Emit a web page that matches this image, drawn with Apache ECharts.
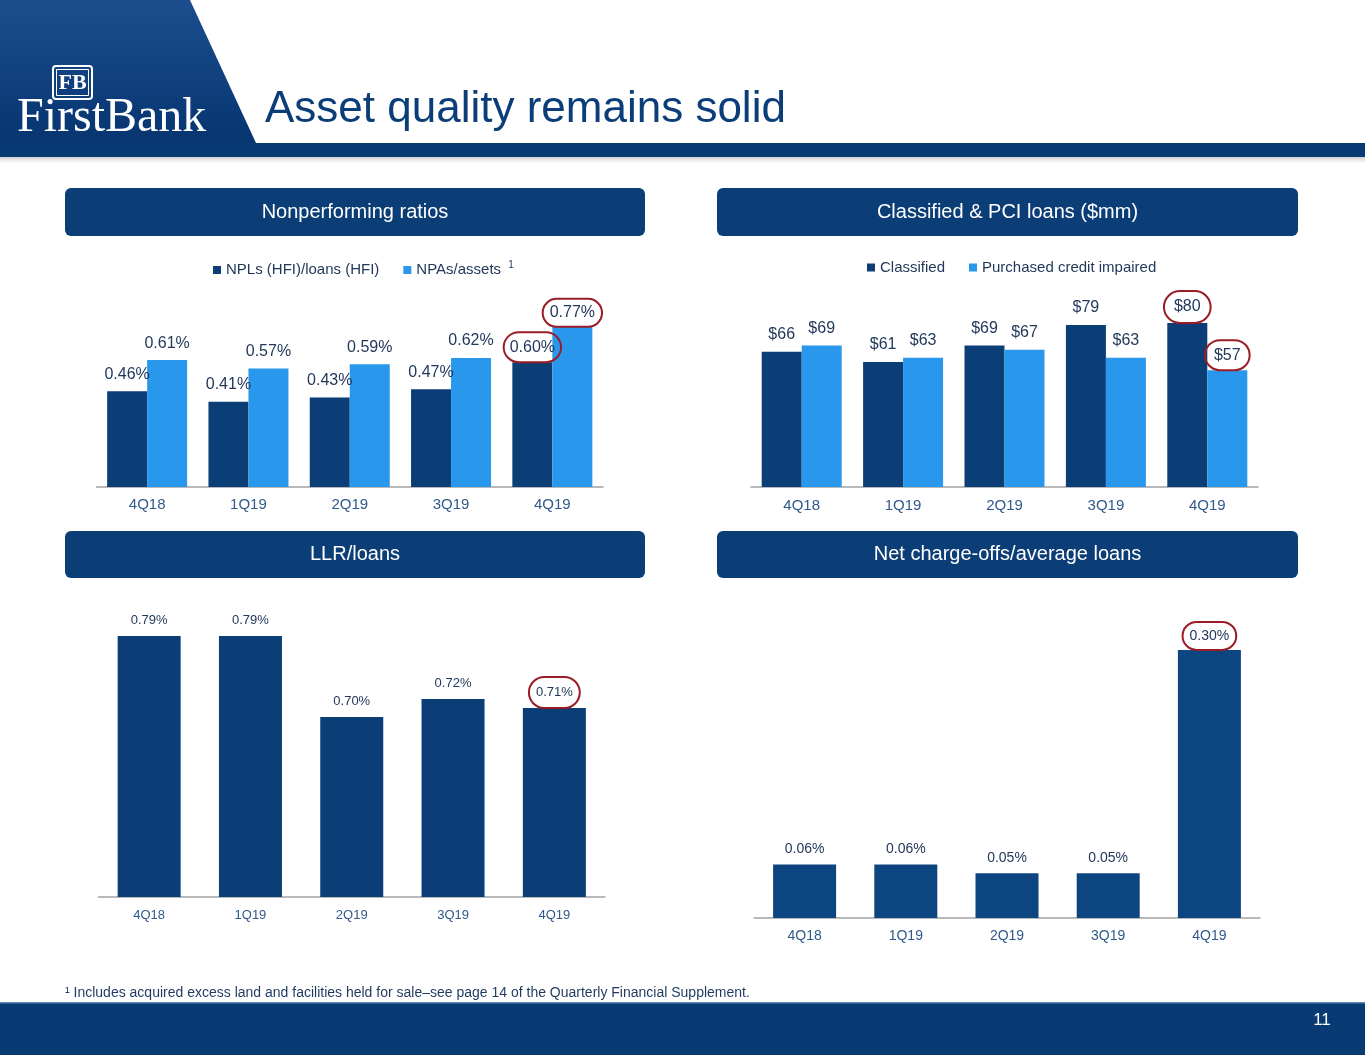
<!DOCTYPE html>
<html>
<head>
<meta charset="utf-8">
<title>Asset quality remains solid</title>
<script src="https://cdn.jsdelivr.net/npm/echarts@6/dist/echarts.min.js"></script>
<style>
  html, body { margin: 0; padding: 0; background: #fff; }
  #page { width: 1365px; height: 1055px; }
</style>
</head>
<body>
<div id="page"></div>
<script>
// slide data
var quarters = ['4Q18', '1Q19', '2Q19', '3Q19', '4Q19'];
var nplLoans = [0.46, 0.41, 0.43, 0.47, 0.60];      // NPLs (HFI)/loans (HFI), %
var npaAssets = [0.61, 0.57, 0.59, 0.62, 0.77];     // NPAs/assets, %
var classifiedLoans = [66, 61, 69, 79, 80];         // $mm
var pciLoans = [69, 63, 67, 63, 57];                // $mm
var llrLoans = [0.79, 0.79, 0.70, 0.72, 0.71];      // %
var ncoLoans = [0.06, 0.06, 0.05, 0.05, 0.30];      // %
var circledIndex = 4;                               // quarter ringed in red on the slide

(function () {
  var font = '"Liberation Sans", Arial, sans-serif';
  var serif = '"Liberation Serif", "DejaVu Serif", serif';
  var navy = '#0b3d76';
  var sky = '#2897ec';
  var labelInk = '#23395b';
  var axisInk = '#31598a';
  var ring = '#9b1c24';

  var chart = echarts.init(document.getElementById('page'), null, { renderer: 'canvas' });

  function pct(p) { return p.value.toFixed(2) + '%'; }
  function usd(p) { return '$' + p.value; }

  // red hand-drawn style ring round the latest value
  function ringed(values, pad) {
    return values.map(function (v, i) {
      if (i !== circledIndex) return v;
      return {
        value: v,
        label: {
          borderColor: ring,
          borderWidth: 2,
          borderRadius: 20,
          padding: pad,
          distance: 0
        }
      };
    });
  }

  function catAxis(grid, size, margin) {
    return {
      type: 'category',
      gridIndex: grid,
      data: quarters,
      axisTick: { show: false },
      axisLine: { lineStyle: { color: '#a3a3a3', width: 1.5 } },
      axisLabel: { color: axisInk, fontSize: size, fontFamily: font, margin: margin }
    };
  }
  function valAxis(grid, min, max) {
    return { type: 'value', gridIndex: grid, min: min, max: max, show: false, splitLine: { show: false } };
  }
  function barLabel(size, dist, fmt) {
    return { show: true, position: 'top', distance: dist, color: labelInk, fontSize: size, fontFamily: font, formatter: fmt };
  }

  function panel(x, y, w, h, text) {
    return {
      type: 'group',
      children: [
        { type: 'rect', shape: { x: x, y: y, width: w, height: h, r: 6 }, style: { fill: navy } },
        {
          type: 'text', x: x + w / 2, y: y + h / 2,
          style: { text: text, fill: '#fff', font: '20px ' + font, align: 'center', verticalAlign: 'middle' }
        }
      ]
    };
  }

  chart.setOption({
    animation: false,
    backgroundColor: '#fff',
    textStyle: { fontFamily: font },
    graphic: [
      // header
      {
        type: 'polygon',
        shape: { points: [[0, 0], [190, 0], [256, 143], [0, 143]] },
        style: {
          fill: new echarts.graphic.LinearGradient(0, 0, 0, 1, [
            { offset: 0, color: '#1c4e8e' },
            { offset: 1, color: '#063570' }
          ])
        }
      },
      { type: 'rect', shape: { x: 0, y: 143, width: 1365, height: 14 }, style: { fill: '#083a73' } },
      {
        type: 'rect', shape: { x: 0, y: 157, width: 1365, height: 6 },
        style: {
          fill: new echarts.graphic.LinearGradient(0, 0, 0, 1, [
            { offset: 0, color: 'rgba(0,0,0,0.18)' },
            { offset: 1, color: 'rgba(0,0,0,0)' }
          ])
        }
      },
      // logo
      { type: 'rect', shape: { x: 53, y: 66, width: 39, height: 33, r: 3 }, style: { fill: 'none', stroke: '#fff', lineWidth: 2 } },
      { type: 'rect', shape: { x: 56.5, y: 69.5, width: 32, height: 26 }, style: { fill: 'none', stroke: '#fff', lineWidth: 1 } },
      {
        type: 'text', x: 72.5, y: 83,
        style: { text: 'FB', fill: '#fff', font: 'bold 22px ' + serif, align: 'center', verticalAlign: 'middle' }
      },
      {
        type: 'text', x: 17, y: 118,
        style: { text: 'FirstBank', fill: '#fff', font: '48px ' + serif, align: 'left', verticalAlign: 'middle' }
      },
      {
        type: 'text', x: 265, y: 110,
        style: { text: 'Asset quality remains solid', fill: '#0b3d78', font: '44px ' + font, align: 'left', verticalAlign: 'middle' }
      },
      // panel headers
      panel(65, 188, 580, 48, 'Nonperforming ratios'),
      panel(717, 188, 581, 48, 'Classified & PCI loans ($mm)'),
      panel(65, 531, 580, 47, 'LLR/loans'),
      panel(717, 531, 581, 47, 'Net charge-offs/average loans'),
      // footnote and footer
      {
        type: 'text', x: 65, y: 993,
        style: {
          text: '\u00b9 Includes acquired excess land and facilities held for sale\u2013see page 14 of the Quarterly Financial Supplement.',
          fill: '#1f3a5f', font: '14px ' + font, align: 'left', verticalAlign: 'middle'
        }
      },
      { type: 'rect', shape: { x: 0, y: 1002, width: 1365, height: 53 }, style: { fill: '#083b73' } },
      { type: 'rect', shape: { x: 0, y: 1002, width: 1365, height: 1.5 }, style: { fill: '#5a86b6' } },
      {
        type: 'text', x: 1322, y: 1020,
        style: { text: '11', fill: '#fff', font: '17px ' + font, align: 'center', verticalAlign: 'middle' }
      }
    ],
    legend: [
      {
        data: ['NPLs (HFI)/loans (HFI)', 'NPAs/assets'],
        left: 208, top: 255,
        itemWidth: 8, itemHeight: 8, itemGap: 24, icon: 'rect',
        formatter: function (name) { return name === 'NPAs/assets' ? name + ' {sup|1}' : name; },
        textStyle: {
          color: labelInk, fontSize: 15, fontFamily: font,
          rich: { sup: { fontSize: 10, color: labelInk, padding: [0, 0, 10, 3] } }
        }
      },
      {
        data: ['Classified', 'Purchased credit impaired'],
        left: 862, top: 255,
        itemWidth: 8, itemHeight: 8, itemGap: 24, icon: 'rect',
        textStyle: { color: labelInk, fontSize: 15, fontFamily: font }
      }
    ],
    grid: [
      { left: 96.5, right: 762, top: 279, bottom: 568 },
      { left: 751, right: 107, top: 282, bottom: 568 },
      { left: 98.5, right: 760, top: 627, bottom: 158 },
      { left: 754, right: 105, top: 632, bottom: 137 }
    ],
    xAxis: [catAxis(0, 15, 10), catAxis(1, 15, 11), catAxis(2, 13, 12), catAxis(3, 14, 11)],
    yAxis: [valAxis(0, 0, 1.0), valAxis(1, 0, 100), valAxis(2, 0.5, 0.8), valAxis(3, 0, 0.32)],
    series: [
      {
        name: 'NPLs (HFI)/loans (HFI)', type: 'bar', xAxisIndex: 0, yAxisIndex: 0,
        barWidth: 40, barGap: '0%', itemStyle: { color: navy },
        label: barLabel(16, 9, pct), data: ringed(nplLoans, [7, 6])
      },
      {
        name: 'NPAs/assets', type: 'bar', xAxisIndex: 0, yAxisIndex: 0,
        barWidth: 40, barGap: '0%', itemStyle: { color: sky },
        label: barLabel(16, 9, pct), data: ringed(npaAssets, [6, 7])
      },
      {
        name: 'Classified', type: 'bar', xAxisIndex: 1, yAxisIndex: 1,
        barWidth: 40, barGap: '0%', itemStyle: { color: navy },
        label: barLabel(16, 9, usd), data: ringed(classifiedLoans, [8, 10])
      },
      {
        name: 'Purchased credit impaired', type: 'bar', xAxisIndex: 1, yAxisIndex: 1,
        barWidth: 40, barGap: '0%', itemStyle: { color: sky },
        label: barLabel(16, 9, usd), data: ringed(pciLoans, [7, 9])
      },
      {
        name: 'LLR/loans', type: 'bar', xAxisIndex: 2, yAxisIndex: 2,
        barWidth: 63, itemStyle: { color: navy },
        label: barLabel(13, 9, pct), data: ringed(llrLoans, [9, 7])
      },
      {
        name: 'Net charge-offs/average loans', type: 'bar', xAxisIndex: 3, yAxisIndex: 3,
        barWidth: 63, itemStyle: { color: '#0c4580' },
        label: barLabel(14, 8, pct), data: ringed(ncoLoans, [7, 7])
      }
    ]
  });
  window.addEventListener('resize', function () { chart.resize(); });
})();
</script>
</body>
</html>
